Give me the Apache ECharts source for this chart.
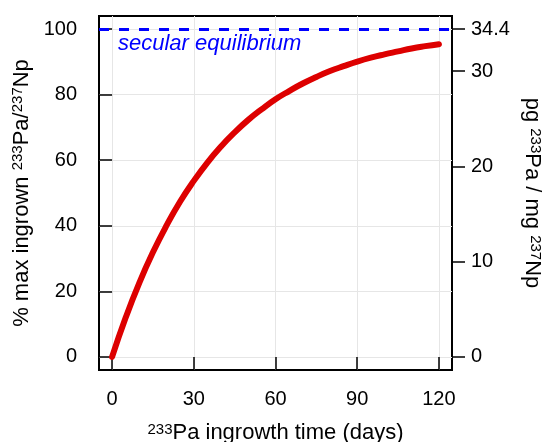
<!DOCTYPE html>
<html>
<head>
<meta charset="utf-8">
<script src="https://cdn.jsdelivr.net/npm/echarts@6/dist/echarts.min.js"></script>
<style>html,body{margin:0;padding:0;background:#fff}#c{width:542px;height:442px}</style>
</head>
<body>
<div id="c"></div>
<script>
// Ingrowth time (days)
var days = [0,5,10,15,20,25,30,35,40,45,50,55,60,65,70,75,80,85,90,95,100,105,110,115,120];
// % of max ingrown 233Pa/237Np
var pctIngrown = [0,12.0,22.6,31.9,40.1,47.4,53.7,59.3,64.2,68.5,72.3,75.6,78.6,81.1,83.4,85.4,87.2,88.7,90.1,91.3,92.3,93.2,94.1,94.8,95.4];
var equilibriumPct = 100;
var equilibriumPg = 34.4;
var xTicks = [0,30,60,90,120];
var yLeftTicks = [0,20,40,60,80,100];
var yRightTicks = [0,10,20,30,34.4];
var eqLabel = 'secular equilibrium';

var pairs = days.map(function(d,i){return [d,pctIngrown[i]];});
var F = 'Liberation Sans, Arial, Helvetica, sans-serif';
var sup = {fontSize: 15, verticalAlign: 'top', fontFamily: F, color:'#000'};
var base = {fontSize: 22, fontFamily: F, color:'#000'};
var chart = echarts.init(document.getElementById('c'), null, {renderer:'canvas'});
var pMin = -4, pMax = 104;
chart.setOption({
  animation: false,
  backgroundColor: '#fff',
  grid: {left: 99, right: 90, top: 16, bottom: 72, show: true, borderColor: '#000', borderWidth: 2,
         backgroundColor: 'transparent', containLabel: false, outerBoundsMode: 'none'},
  xAxis: {
    type: 'value', min: -4.8, max: 124.8,
    axisLine: {show: false},
    axisTick: {show: true, length: 13, lineStyle: {color:'#000', width: 1.5}, customValues: xTicks},
    axisLabel: {color:'#000', fontSize: 20, fontFamily: F, margin: 19, customValues: xTicks},
    splitLine: {show: true, lineStyle: {color:'#e6e6e6', width: 1}},
    name: '{s|233}{b|Pa ingrowth time (days)}',
    nameLocation: 'middle', nameGap: 52,
    nameTextStyle: {rich: {s: sup, b: base}}
  },
  yAxis: [{
    type: 'value', min: pMin, max: pMax,
    axisLine: {show: false},
    axisTick: {show: true, length: 13, lineStyle: {color:'#000', width: 1.5}, customValues: yLeftTicks},
    axisLabel: {color:'#000', fontSize: 20, fontFamily: F, margin: 22, customValues: yLeftTicks},
    splitLine: {show: true, lineStyle: {color:'#e6e6e6', width: 1}},
    name: '{b|% max ingrown }{s|233}{b|Pa/}{s|237}{b|Np}',
    nameLocation: 'middle', nameGap: 66, nameRotate: 90,
    nameTextStyle: {rich: {s: sup, b: base}}
  },{
    type: 'value', position: 'right', min: pMin*equilibriumPg/equilibriumPct, max: pMax*equilibriumPg/equilibriumPct,
    axisLine: {show: false},
    axisTick: {show: true, length: 13, lineStyle: {color:'#000', width: 1.5}, customValues: yRightTicks},
    axisLabel: {color:'#000', fontSize: 20, fontFamily: F, margin: 19, customValues: yRightTicks},
    splitLine: {show: false},
    name: '{b|pg }{s|233}{b|Pa / mg }{s|237}{b|Np}',
    nameLocation: 'middle', nameGap: 41, nameRotate: -90,
    nameTextStyle: {rich: {s: sup, b: base}}
  }],
  series: [{
    type: 'line', data: pairs, smooth: true, showSymbol: false, symbol: 'none',
    lineStyle: {color: '#dd0000', width: 6, cap: 'round'},
    z: 3,
    markLine: {
      silent: true, symbol: 'none', label: {show: false},
      lineStyle: {color: '#0000ff', type: [10,10], width: 3},
      data: [{yAxis: equilibriumPct}]
    }
  }],
  graphic: [{
    type: 'text', left: 118, top: 33,
    style: {text: eqLabel, font: 'italic 22px ' + F, fill: '#0000ff'}
  }]
});
</script>
</body>
</html>
